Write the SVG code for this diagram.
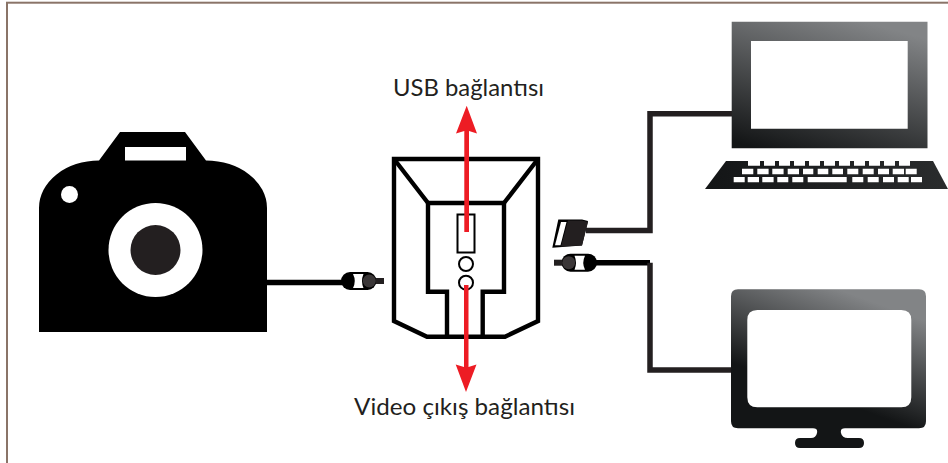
<svg xmlns="http://www.w3.org/2000/svg" width="948" height="463" viewBox="0 0 948 463">
<style>
.lbl{font-family:"Lato","Open Sans",sans-serif;font-size:23.500px;fill:#231f20}
.cable{fill:none;stroke:#000;stroke-width:5.500}
.cableb{fill:none;stroke:#231f20;stroke-width:5.500;stroke-linejoin:miter}
.box{fill:none;stroke:#000;stroke-width:4.400}
.k{fill:#fff}
.red{fill:#ed1c24}
</style>
<defs>
<linearGradient id="lap" gradientUnits="userSpaceOnUse" x1="800" y1="160" x2="840" y2="15">
<stop offset="0" stop-color="#131516"/><stop offset="1" stop-color="#828486"/>
</linearGradient>
<linearGradient id="mon" gradientUnits="userSpaceOnUse" x1="800" y1="400" x2="840" y2="290">
<stop offset="0.1" stop-color="#131516"/><stop offset="1" stop-color="#828486"/>
</linearGradient>
<linearGradient id="kb" gradientUnits="userSpaceOnUse" x1="705" y1="189" x2="948" y2="161">
<stop offset="0" stop-color="#131516"/><stop offset="1" stop-color="#2a2c2d"/>
</linearGradient>
<g id="plug">
<rect x="0" y="-9" width="35.500" height="18" rx="9" fill="#000"/>
<path d="M12,-7H22.500Q19.500,0 22.500,7H12Q15.500,0 12,-7Z" fill="#fff"/>
<circle cx="28.300" cy="0" r="6.500" fill="#3a3637"/>
<rect x="35" y="-3" width="8" height="6" fill="#231f20"/>
</g>
</defs>
<rect id="frame" x="7" y="2.700" width="960" height="480" fill="#fff" stroke="#8a7468" stroke-width="2"/>
<g id="connectors">
<path class="cable" d="M267,282.500H345"/>
<path class="cableb" d="M586,230.500H650V113.800H732"/>
<path class="cable" d="M596,262.700H650"/>
<path class="cableb" d="M650,262.700V370H732"/>
</g>
<g id="camera">
<path d="M39,332V208A60,47.500 0 0 1 99,160.500L120,132H185L206,160.500A61,47.500 0 0 1 267,208V332Z" fill="#000"/>
<rect x="125" y="147" width="61" height="13.500" fill="#fff"/>
<circle cx="69.500" cy="194.500" r="8.500" fill="#fff"/>
<circle cx="155.500" cy="250" r="47" fill="#fff"/>
<circle cx="155.500" cy="250" r="25" fill="#231f20"/>
</g>
<use id="camera-plug" href="#plug" x="341" y="281"/>
<g id="device">
<path class="box" d="M394,159H538V321L505,336.700H427L394,321Z"/>
<path class="box" d="M394,159L428,203M538,159L504,203"/>
<path class="box" d="M447,336.700V291.700H428V203H504V291.700H482.700V336.700"/>
<rect x="457.500" y="214.500" width="17" height="38" fill="#fff" stroke="#000" stroke-width="2"/>
<circle cx="466" cy="264" r="7" fill="#fff" stroke="#000" stroke-width="2"/>
<circle cx="466" cy="282.700" r="7" fill="#fff" stroke="#000" stroke-width="2"/>
</g>
<g id="arrows">
<path class="red" d="M466.700,105.700L477,133.500L469,131V232H464.300V131L456,133.500Z"/>
<path class="red" d="M464,285H468.500V367L476.500,364.500L466,392L455.700,364.500L464,367Z"/>
</g>
<g id="usb-plug">
<path d="M558.300,219.500H582L588,221L582,245.500L552.300,247.700Z" fill="#000"/>
<path d="M568,220.500H582L588,222L582,245.500L561,246.500Z" fill="#231f20"/>
<path d="M561,222H566.500L560.500,245.200H555Z" fill="#fff"/>
</g>
<use id="monitor-plug" href="#plug" transform="translate(597,262.700) scale(-1,1)"/>
<g id="laptop">
<path fill-rule="evenodd" d="M731.700,21.700H927.500V148.300H731.700ZM751,41V128.700H907.700V41Z" fill="url(#lap)"/>
<path d="M726,161H933L948,189H705Z" fill="url(#kb)"/>
<path class="k" d="M748,161H760V165.700H748ZM764,161H775V165.700H764ZM779,161H790V165.700H779ZM794,161H805V165.700H794ZM809,161H820V165.700H809ZM824,161H835V165.700H824ZM839,161H850V165.700H839ZM854,161H865V165.700H854ZM869,161H880V165.700H869ZM884,161H895V165.700H884ZM899,161H910V165.700H899Z"/>
<path class="k" d="M742,168.700h11.300v5.600h-11.300ZM757.300,168.700h11.300v5.600h-11.300ZM772.300,168.700h11.300v5.600h-11.300ZM787.700,168.700h11.300v5.600h-11.300ZM803,168.700h10.300v5.600h-10.300ZM817.700,168.700h10.600v5.600h-10.600ZM832.300,168.700h10.700v5.600h-10.700ZM847.300,168.700h11v5.600h-11ZM862.700,168.700h11v5.600h-11ZM878,168.700h11v5.600h-11ZM892.700,168.700h11.300v5.600h-11.300ZM905.700,168.700h11v5.600h-11Z"/>
<path class="k" d="M733.700,177h11v5.300h-11ZM747.700,177h11.300v5.300h-11.300ZM762.300,177h11.300v5.300h-11.300ZM777.300,177h11v5.300h-11ZM792.300,177h11v5.300h-11ZM807.700,177h39v5.300h-39ZM852.300,177h11v5.300h-11ZM867.700,177h11v5.300h-11ZM883,177h11v5.300h-11ZM897.700,177h11v5.300h-11ZM911,177h11v5.300h-11Z"/>
</g>
<g id="monitor">
<path fill-rule="evenodd" fill="url(#mon)" d="M738,289.300H919Q926,289.300 926,296.300V421.300Q926,428.300 919,428.300H845Q840,428.300 841,433Q842,438 848,438H859Q864,438 864,443Q864,448 859,448H800Q795,448 795,443Q795,438 800,438H811Q816,438 817,433Q818,428.300 813,428.300H738Q731,428.300 731,421.300V296.300Q731,289.300 738,289.300ZM757.300,310Q747.300,310 747.300,320V397.300Q747.300,407.300 757.300,407.300H901.300Q911.300,407.300 911.300,397.300V320Q911.300,310 901.300,310Z"/>
</g>
<text class="lbl" x="393" y="95.500" textLength="151" lengthAdjust="spacingAndGlyphs">USB bağlantısı</text>
<text class="lbl" x="354" y="415" textLength="221" lengthAdjust="spacingAndGlyphs">Video çıkış bağlantısı</text>
</svg>
